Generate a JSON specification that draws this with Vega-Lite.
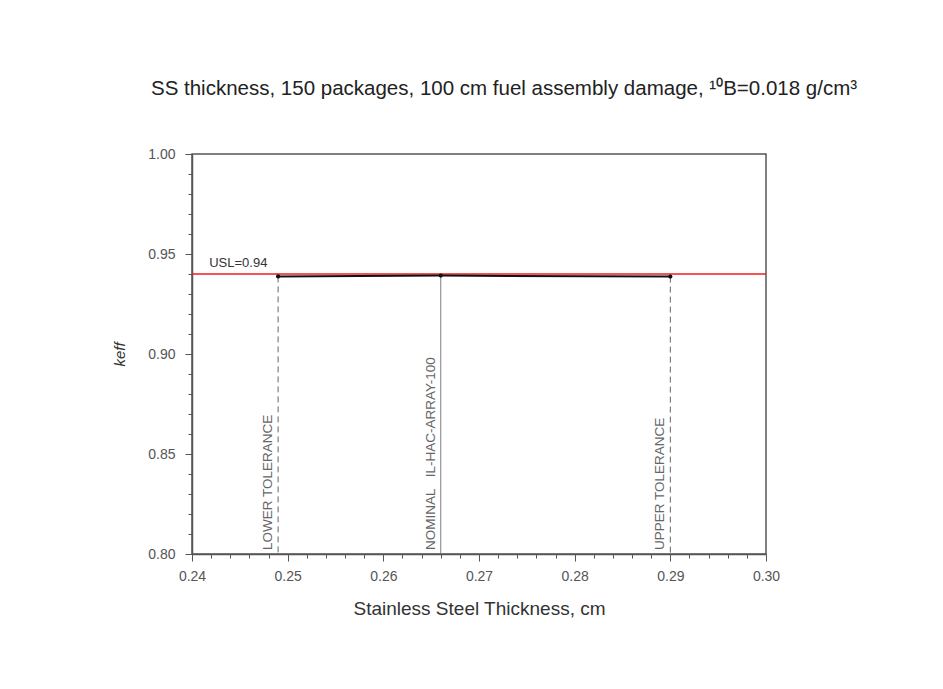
{
  "$schema": "https://vega.github.io/schema/vega-lite/v6.json",
  "width": 574,
  "height": 400,
  "autosize": {"type": "none"},
  "padding": {"left": 192, "top": 154, "right": 177, "bottom": 135},
  "background": "white",
  "title": {
    "text": "SS thickness, 150 packages, 100 cm fuel assembly damage, ¹⁰B=0.018 g/cm³",
    "font": "Liberation Sans",
    "fontSize": 20.5,
    "fontWeight": "normal",
    "color": "#222",
    "anchor": "middle",
    "dx": 25,
    "offset": 48
  },
  "config": {
    "view": {"stroke": "#555", "strokeWidth": 1.5},
    "axis": {
      "domainColor": "#555",
      "domainWidth": 1.5,
      "tickColor": "#555",
      "labelFont": "Liberation Sans",
      "labelFontSize": 14,
      "labelColor": "#555",
      "titleFont": "Liberation Sans",
      "titleFontWeight": "normal",
      "titleColor": "#333",
      "grid": false,
      "labelOverlap": false,
      "labelFlush": false,
      "tickCount": 200
    }
  },
  "resolve": {"axis": {"x": "independent", "y": "independent"}},
  "datasets": {
    "pts": [
      {"t": 0.249, "k": 0.9388, "label": "LOWER TOLERANCE", "style": "dashed"},
      {"t": 0.266, "k": 0.9392, "label": "NOMINAL\u00a0\u00a0 IL-HAC-ARRAY-100", "style": "solid"},
      {"t": 0.290, "k": 0.9387, "label": "UPPER TOLERANCE", "style": "dashed"}
    ],
    "usl": [{"t": 0.2418, "k": 0.94, "label": "USL=0.94"}]
  },
  "layer": [
    {
      "data": {"name": "pts"},
      "mark": {"type": "rule", "color": "#666", "strokeWidth": 1},
      "encoding": {
        "x": {
          "field": "t",
          "type": "quantitative",
          "scale": {"domain": [0.24, 0.30], "nice": false, "zero": false},
          "axis": {
            "orient": "bottom",
            "title": "Stainless Steel Thickness, cm",
            "titleFontSize": 19,
            "titlePadding": 16,
            "values": [0.24, 0.25, 0.26, 0.27, 0.28, 0.29, 0.30],
            "tickCount": 200,
            "format": ".2f",
            "labelPadding": 8,
            "tickSize": 7
          }
        },
        "y": {
          "field": "k",
          "type": "quantitative",
          "scale": {"domain": [0.8, 1.0], "nice": false, "zero": false},
          "axis": {
            "orient": "left",
            "title": "keff",
            "titleFontStyle": "italic",
            "titleFontSize": 15,
            "titlePadding": 20,
            "values": [0.80, 0.85, 0.90, 0.95, 1.00],
            "tickCount": 200,
            "format": ".2f",
            "labelPadding": 10,
            "tickSize": 7
          }
        },
        "y2": {"datum": 0.8},
        "strokeDash": {
          "field": "style",
          "type": "nominal",
          "scale": {"domain": ["dashed", "solid"], "range": [[6, 4], [1, 0]]},
          "legend": null
        }
      }
    },
    {
      "data": {"name": "usl"},
      "mark": {"type": "rule", "color": "#ee1c1c", "strokeWidth": 1.5},
      "encoding": {
        "y": {"field": "k", "type": "quantitative", "axis": null}
      }
    },
    {
      "data": {"name": "pts"},
      "mark": {"type": "line", "color": "#111", "strokeWidth": 2},
      "encoding": {
        "x": {"field": "t", "type": "quantitative", "axis": null},
        "y": {"field": "k", "type": "quantitative", "axis": null}
      }
    },
    {
      "data": {"name": "pts"},
      "mark": {"type": "point", "filled": true, "color": "#111", "size": 18, "opacity": 1},
      "encoding": {
        "x": {
          "field": "t",
          "type": "quantitative",
          "axis": {
            "orient": "bottom",
            "title": null,
            "labels": false,
            "domain": false,
            "tickSize": 4,
            "tickCount": 200,
            "values": [0.242,0.244,0.246,0.248,0.252,0.254,0.256,0.258,0.262,0.264,0.266,0.268,0.272,0.274,0.276,0.278,0.282,0.284,0.286,0.288,0.292,0.294,0.296,0.298]
          }
        },
        "y": {
          "field": "k",
          "type": "quantitative",
          "axis": {
            "orient": "left",
            "title": null,
            "labels": false,
            "domain": false,
            "tickSize": 4,
            "tickCount": 200,
            "values": [0.81,0.82,0.83,0.84,0.86,0.87,0.88,0.89,0.91,0.92,0.93,0.94,0.96,0.97,0.98,0.99]
          }
        }
      }
    },
    {
      "data": {"name": "usl"},
      "mark": {"type": "text", "align": "left", "baseline": "alphabetic", "dy": -7, "font": "Liberation Sans", "fontSize": 13, "color": "#333"},
      "encoding": {
        "x": {"field": "t", "type": "quantitative", "axis": null},
        "y": {"field": "k", "type": "quantitative", "axis": null},
        "text": {"field": "label"}
      }
    },
    {
      "data": {"name": "pts"},
      "mark": {"type": "text", "angle": 270, "align": "left", "baseline": "bottom", "dy": -3, "font": "Liberation Sans", "fontSize": 13.5, "color": "#666"},
      "encoding": {
        "x": {"field": "t", "type": "quantitative", "axis": null},
        "y": {"datum": 0.802, "type": "quantitative", "axis": null},
        "text": {"field": "label"}
      }
    }
  ]
}
